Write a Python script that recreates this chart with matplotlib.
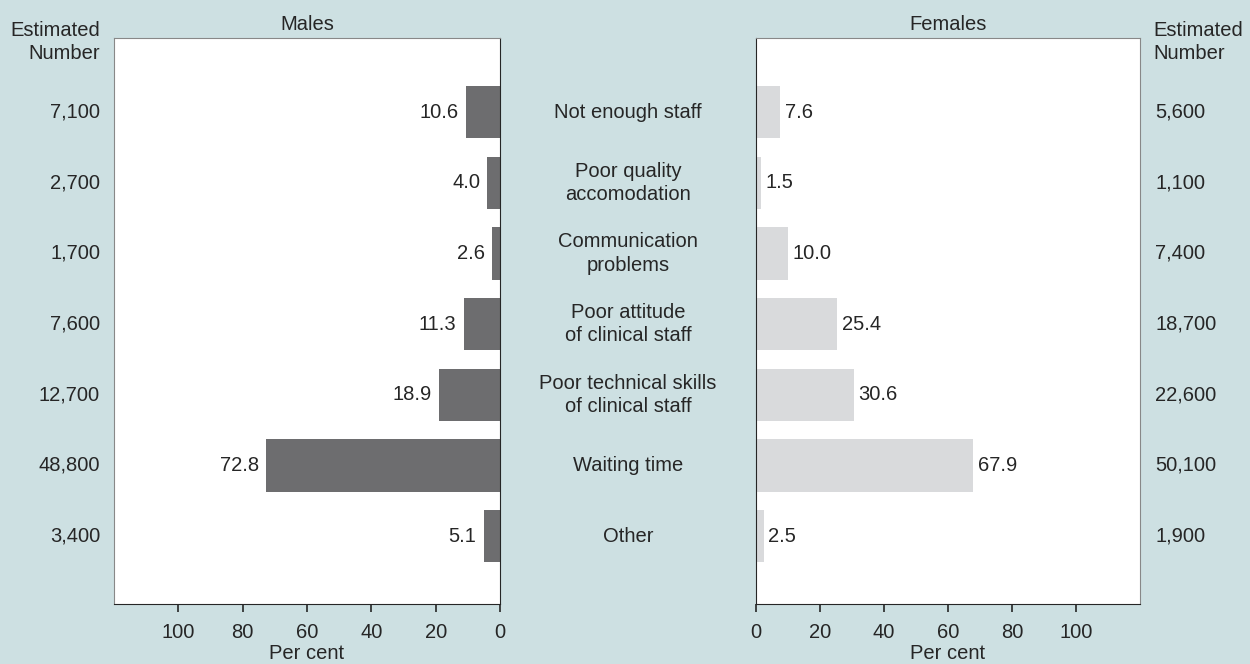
import matplotlib
matplotlib.use("Agg")
import matplotlib.pyplot as plt

plt.rcParams['font.family'] = ['Liberation Sans', 'DejaVu Sans']

categories = ["Not enough staff", "Poor quality\naccomodation", "Communication\nproblems",
              "Poor attitude\nof clinical staff", "Poor technical skills\nof clinical staff",
              "Waiting time", "Other"]
males_pct = [10.6, 4.0, 2.6, 11.3, 18.9, 72.8, 5.1]
females_pct = [7.6, 1.5, 10.0, 25.4, 30.6, 67.9, 2.5]
males_num = ["7,100", "2,700", "1,700", "7,600", "12,700", "48,800", "3,400"]
females_num = ["5,600", "1,100", "7,400", "18,700", "22,600", "50,100", "1,900"]
xticks = [0, 20, 40, 60, 80, 100]

BG = "#cde0e2"
TXT = "#262626"
FS = 14.5

fig = plt.figure(figsize=(12.5, 6.64), dpi=100, facecolor=BG)
axL = fig.add_axes([0.0912, 0.0904, 0.3088, 0.8524])
axR = fig.add_axes([0.6048, 0.0904, 0.3072, 0.8524])

y = list(range(len(categories)))

for ax, vals, col in [(axL, males_pct, "#6d6d6f"), (axR, females_pct, "#d9dadc")]:
    ax.barh(y, vals, height=0.74, color=col)
    ax.set_xlim(0, 120)
    ax.set_ylim(6.96, -1.05)
    ax.set_yticks([])
    ax.set_xticks(xticks)
    ax.tick_params(axis='x', direction='out', length=6, width=1.2, color=TXT,
                   labelsize=FS, labelcolor=TXT, pad=8)
    ax.set_xlabel("Per cent", fontsize=FS, color=TXT, labelpad=1)
    ax.set_facecolor("white")

axL.invert_xaxis()

for s in ['left', 'top']:
    axL.spines[s].set_color("#888888")
for s in ['right', 'bottom']:
    axL.spines[s].set_color(TXT)
for s in ['right', 'top']:
    axR.spines[s].set_color("#888888")
for s in ['left', 'bottom']:
    axR.spines[s].set_color(TXT)

for i in y:
    axL.text(males_pct[i] + 2.2, i, f"{males_pct[i]:.1f}", ha='right', va='center',
             fontsize=FS, color=TXT)
    axR.text(females_pct[i] + 1.4, i, f"{females_pct[i]:.1f}", ha='left', va='center',
             fontsize=FS, color=TXT)
    axL.text(-0.036, i, males_num[i], transform=axL.get_yaxis_transform(), ha='right',
             va='center', fontsize=FS, color=TXT)
    axR.text(1.04, i, females_num[i], transform=axR.get_yaxis_transform(), ha='left',
             va='center', fontsize=FS, color=TXT)

# category labels in middle
for i in y:
    yy = axL.transData.transform((0, i))[1]
    fig.text(628 / 1250, yy / 664, categories[i], ha='center', va='center',
             fontsize=FS, color=TXT, linespacing=1.3)

axL.set_title("Males", fontsize=FS, color=TXT, pad=6)
axR.set_title("Females", fontsize=FS, color=TXT, pad=6)

fig.text(100 / 1250, 1 - 42 / 664, "Estimated\nNumber", ha='right', va='center',
         fontsize=FS, color=TXT, linespacing=1.3)
fig.text(1153 / 1250, 1 - 42 / 664, "Estimated\nNumber", ha='left', va='center',
         fontsize=FS, color=TXT, linespacing=1.3)

fig.savefig("out.png", dpi=100, facecolor=BG)
